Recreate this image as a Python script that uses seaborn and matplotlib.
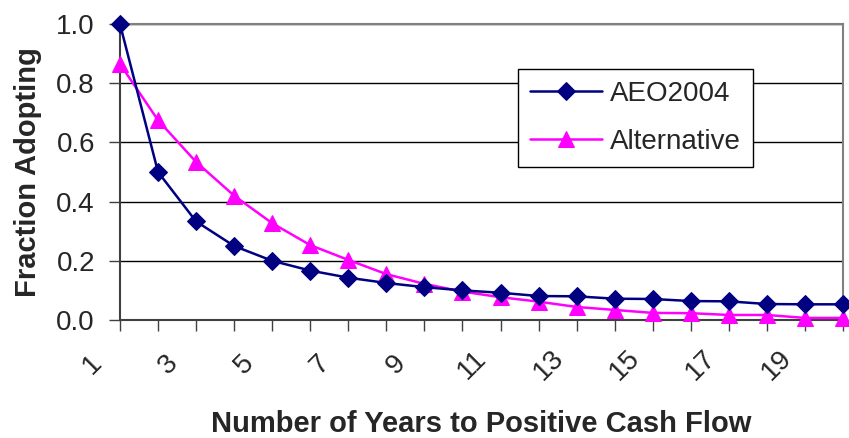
import seaborn as sns
import matplotlib.pyplot as plt
import matplotlib.transforms as mtransforms
import pandas as pd

sns.set_style("white")
plt.rcParams['font.family'] = ['Liberation Sans', 'DejaVu Sans']

years = list(range(1, 21))
aeo2004 = [1.0, 0.5, 0.333, 0.25, 0.2, 0.167, 0.143, 0.125, 0.111, 0.1,
           0.092, 0.081, 0.08, 0.072, 0.071, 0.064, 0.063, 0.054, 0.053, 0.053]
alternative = [0.865, 0.675, 0.534, 0.42, 0.327, 0.253, 0.203, 0.155, 0.122, 0.096,
               0.077, 0.062, 0.044, 0.034, 0.024, 0.023, 0.017, 0.017, 0.007, 0.007]
x_labels = [str(y) for y in years if y % 2 == 1]

df = pd.DataFrame({"year": years, "AEO2004": aeo2004, "Alternative": alternative})

fig = plt.figure(figsize=(8.49, 4.38), dpi=100)
ax = fig.add_axes([0.1413, 0.2694, 0.8517, 0.6758])

sns.lineplot(data=df, x="year", y="AEO2004", ax=ax, color="#000080", marker="D",
             markersize=9, markeredgecolor="#000080", linewidth=1.8, label="AEO2004",
             clip_on=False, zorder=4)
sns.lineplot(data=df, x="year", y="Alternative", ax=ax, color="#FF00FF", marker="^",
             markersize=11, markeredgecolor="#FF00FF", linewidth=1.8, label="Alternative",
             clip_on=False, zorder=3)

ax.set_xlim(1, 20)
ax.set_ylim(0, 1.0)
ax.set_xticks(years)
ax.set_xticklabels([])
# rotated category labels, shifted left/below like the original
trans = mtransforms.blended_transform_factory(ax.transData, ax.transAxes)
shift = mtransforms.ScaledTranslation(-0.28, -0.45, fig.dpi_scale_trans)
for lab in x_labels:
    ax.text(int(lab), 0, lab, transform=trans + shift, rotation=45,
            ha="center", va="center", fontsize=20)

ax.set_yticks([0.0, 0.2, 0.4, 0.6, 0.8, 1.0])
ax.set_yticklabels(["0.0", "0.2", "0.4", "0.6", "0.8", "1.0"], fontsize=20)

ax.tick_params(axis="x", direction="out", length=8, width=1, color="#404040", bottom=True)
ax.tick_params(axis="y", direction="out", length=8, width=1, color="#404040", left=True, pad=10)

ax.yaxis.grid(True, color="black", linewidth=1)
ax.xaxis.grid(False)
for side in ["top", "right"]:
    ax.spines[side].set_color("#808080")
    ax.spines[side].set_linewidth(1.5)
for side in ["left", "bottom"]:
    ax.spines[side].set_color("#404040")
    ax.spines[side].set_linewidth(1.5)

ax.set_xlabel("Number of Years to Positive Cash Flow", fontsize=21, fontweight="bold")
ax.xaxis.set_label_coords(0.5, -0.305)
ax.set_ylabel("Fraction Adopting", fontsize=21, fontweight="bold")
ax.yaxis.set_label_coords(-0.108, 0.5)

leg = ax.legend(loc="upper left", bbox_to_anchor=(0.5505, 0.848), fontsize=20,
                frameon=True, fancybox=False, edgecolor="black", framealpha=1,
                handlelength=2.6, borderpad=0.42, labelspacing=0.8, handletextpad=0.3,
                borderaxespad=0)
leg.get_frame().set_linewidth(1)

fig.savefig("out.png", dpi=100)
